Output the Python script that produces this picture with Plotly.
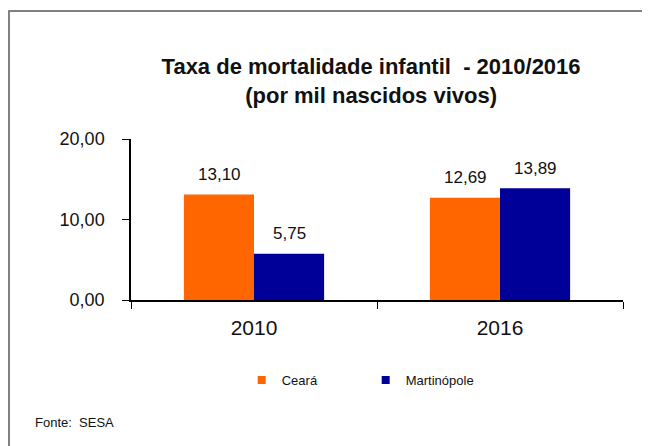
import plotly.graph_objects as go

categories = ["2010", "2016"]
ceara = [13.10, 12.69]
martinopole = [5.75, 13.89]
series_names = ["Ceará", "Martinópole"]
colors = ["#FF6600", "#000099"]
y_ticks = [0, 10, 20]
title_lines = ["Taxa de mortalidade infantil  - 2010/2016", "(por mil nascidos vivos)"]
source_text = "Fonte:  SESA"

FONT = "Liberation Sans, Arial"

fig = go.Figure()
for name, vals, col in zip(series_names, [ceara, martinopole], colors):
    fig.add_trace(go.Bar(x=categories, y=vals, name=name, showlegend=False,
                         marker=dict(color=col, line=dict(width=0))))
# legend entries with small square swatches
for name, col in zip(series_names, colors):
    fig.add_trace(go.Scatter(x=[None], y=[None], mode="markers", name=name,
                             marker=dict(symbol="square", size=8, color=col)))

# value labels above bars (x given as category index)
offsets = [-35, 35]
for vals, dx in zip([ceara, martinopole], offsets):
    for i, v in enumerate(vals):
        fig.add_annotation(x=i, y=v, text=f"{v:.2f}".replace(".", ","), showarrow=False,
                           xshift=dx, yshift=20, font=dict(family=FONT, size=17, color="#111111"))

fig.add_annotation(xref="paper", yref="paper", x=-0.199, y=-0.758, xanchor="left", yanchor="middle",
                   text=source_text, showarrow=False,
                   font=dict(family=FONT, size=13, color="#111111"))

fig.update_layout(
    width=642, height=438,
    margin=dict(l=123, r=27, t=131, b=146),
    paper_bgcolor="white", plot_bgcolor="white",
    separators=",.",
    barmode="group", bargap=0.43, bargroupgap=0,
    title=dict(text="<b>" + title_lines[0] + "<br>" + title_lines[1] + "</b>",
               x=0.488, xref="paper", xanchor="center", y=1 - 66 / 438, yref="container", yanchor="middle",
               font=dict(family=FONT, size=22, color="#111111")),
    showlegend=True,
    legend=dict(orientation="h", x=0.225, xanchor="left", y=-0.497, yanchor="middle",
                font=dict(family=FONT, size=13, color="#111111"),
                entrywidth=79, itemwidth=30, itemsizing="trace", traceorder="normal"),
    xaxis=dict(type="category", range=[-0.5, 1.5], showline=True, linecolor="#000000", linewidth=1.5,
               ticks="outside", tickson="boundaries", ticklen=7, tickcolor="#000000",
               tickfont=dict(family=FONT, size=21, color="#111111"), ticklabelstandoff=8,
               showgrid=False, zeroline=False),
    yaxis=dict(range=[0, 20], tickvals=y_ticks, tickformat=".2f", showline=True, linecolor="#000000",
               linewidth=1.5, ticks="outside", ticklen=7, tickcolor="#000000",
               tickfont=dict(family=FONT, size=18, color="#111111"),
               ticklabelstandoff=14, showgrid=False, zeroline=False),
    shapes=[
        dict(type="line", xref="paper", yref="paper", x0=-0.248, x1=1.2, y0=1.795, y1=1.795,
             line=dict(color="#808080", width=2)),
        dict(type="line", xref="paper", yref="paper", x0=-0.248, x1=-0.248, y0=1.80, y1=-1.2,
             line=dict(color="#808080", width=2)),
    ],
)

fig.write_html("out.html")
